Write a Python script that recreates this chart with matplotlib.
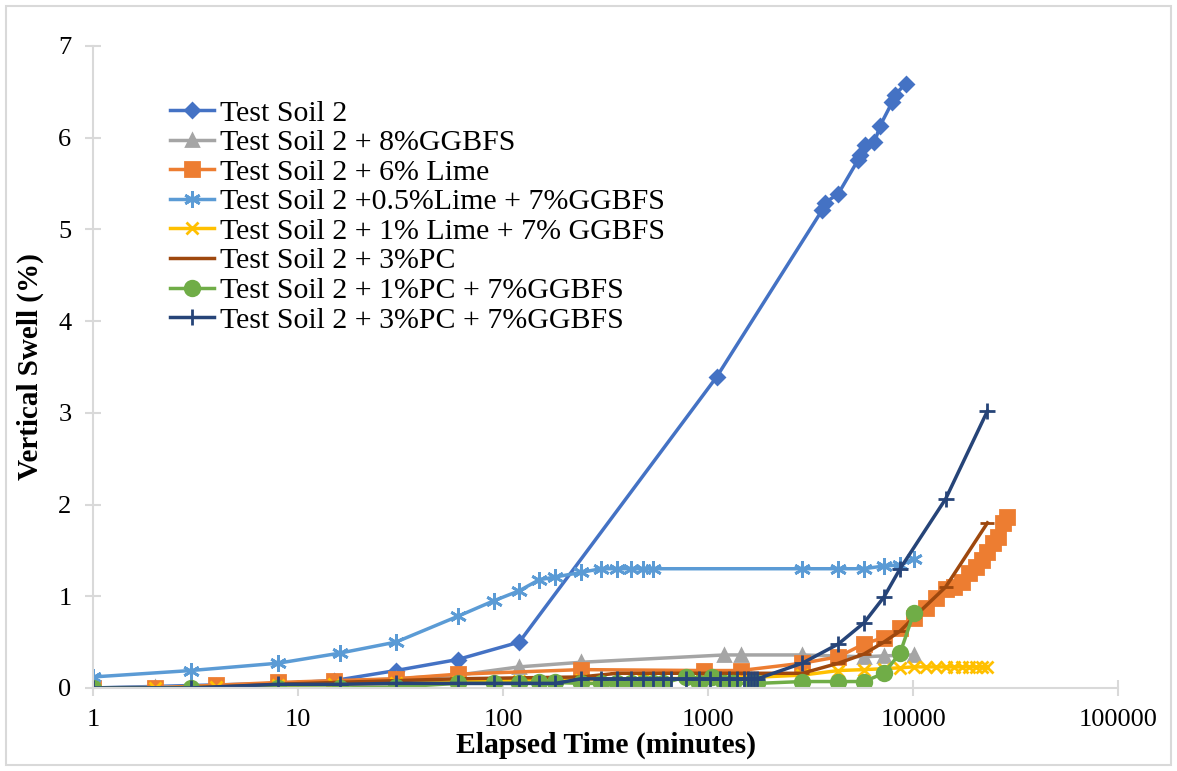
import numpy as np
import matplotlib.pyplot as plt
from matplotlib.patches import Rectangle

plt.rcParams['font.family'] = ['Liberation Serif', 'DejaVu Serif']

# elapsed time (minutes) and vertical swell (%) per mix
soil_t = [1, 8, 15, 30, 60, 120, 1100, 3600, 3720, 4320, 5400, 5520, 5820, 6480, 6900, 7920, 8160, 9240]
soil_s = [0, 0.05, 0.08, 0.19, 0.31, 0.5, 3.39, 5.21, 5.29, 5.39, 5.76, 5.81, 5.92, 5.95, 6.13, 6.39, 6.47, 6.59]

gg_t = [1, 2, 4, 8, 15, 30, 60, 120, 240, 1200, 1440, 2880, 5760, 7200, 10080]
gg_s = [0, 0.01, 0.02, 0.05, 0.07, 0.1, 0.14, 0.23, 0.28, 0.36, 0.36, 0.36, 0.34, 0.35, 0.36]

lime_t = [1, 2, 4, 8, 15, 30, 60, 240, 960, 1440, 2880, 4320, 5760, 7200, 8640, 10080,
          11520, 12960, 14400, 15840, 17280, 18720, 20160, 21600, 23040, 24480, 25920, 27360, 28800]
lime_s = [0, 0, 0.03, 0.06, 0.08, 0.1, 0.15, 0.2, 0.19, 0.19, 0.27, 0.34, 0.48, 0.55, 0.65, 0.76,
          0.87, 0.98, 1.08, 1.10, 1.16, 1.25, 1.32, 1.40, 1.48, 1.58, 1.65, 1.80, 1.86]

l05_t = [1, 3, 8, 16, 30, 60, 90, 120, 150, 180, 240, 300, 360, 420, 480, 540,
         2880, 4320, 5760, 7200, 8640, 10080]
l05_s = [0.12, 0.19, 0.27, 0.38, 0.5, 0.78, 0.95, 1.06, 1.18, 1.21, 1.26, 1.3, 1.3, 1.3, 1.3, 1.3,
         1.3, 1.3, 1.3, 1.33, 1.34, 1.41]

l1_t = [1, 2, 4, 8, 15, 30, 60, 120, 240, 480, 1440, 2880, 4320, 5760, 7200, 8640, 10080,
        11520, 12960, 14400, 15840, 17280, 18720, 20160, 21600, 23040]
l1_s = [0, 0, 0.01, 0.03, 0.04, 0.05, 0.07, 0.08, 0.09, 0.1, 0.11, 0.14, 0.19, 0.2, 0.21, 0.22, 0.23,
        0.23, 0.23, 0.23, 0.23, 0.23, 0.23, 0.23, 0.23, 0.23]

pc3_t = [1, 2, 4, 8, 15, 30, 60, 120, 240, 360, 720, 1440, 2880, 4320, 5760, 7200, 8640, 10080, 14400, 23040]
pc3_s = [0, 0, 0.01, 0.04, 0.06, 0.08, 0.1, 0.11, 0.12, 0.16, 0.16, 0.16, 0.16, 0.27, 0.37, 0.5, 0.62, 0.77, 1.1, 1.8]

pc1_t = [1, 3, 8, 16, 30, 60, 90, 120, 150, 180, 240, 300, 360, 420, 480, 540, 600, 780, 900,
         1050, 1200, 1320, 1620, 1740, 2880, 4320, 5760, 7200, 8640, 10080]
pc1_s = [0, 0, 0, 0, 0.01, 0.05, 0.05, 0.05, 0.06, 0.06, 0.05, 0.05, 0.05, 0.05, 0.05, 0.05, 0.05, 0.12, 0.05,
         0.12, 0.05, 0.05, 0.05, 0.05, 0.07, 0.07, 0.07, 0.16, 0.38, 0.82]

pc3g_t = [1, 3, 8, 16, 30, 60, 90, 120, 150, 180, 240, 300, 360, 420, 480, 540, 600, 660, 780, 900,
          1020, 1140, 1260, 1380, 1500, 1560, 1620, 1680, 1740, 2880, 4320, 5760, 7200, 8640, 14400, 23040]
pc3g_s = [0, 0, 0.04, 0.04, 0.05, 0.05, 0.05, 0.05, 0.05, 0.05, 0.1, 0.1, 0.1, 0.1, 0.1, 0.1, 0.1, 0.1, 0.1, 0.1,
          0.1, 0.1, 0.1, 0.1, 0.1, 0.1, 0.1, 0.1, 0.1, 0.27, 0.48, 0.71, 0.99, 1.3, 2.06, 3.02]

series = [
    (soil_t, soil_s, 'Test Soil 2', '#4472C4', 'D', 7),
    (gg_t, gg_s, 'Test Soil 2 + 8%GGBFS', '#A5A5A5', '^', 9),
    (lime_t, lime_s, 'Test Soil 2 + 6% Lime', '#ED7D31', 's', 10),
    (l05_t, l05_s, 'Test Soil 2 +0.5%Lime + 7%GGBFS', '#5B9BD5', (6, 2, 0), 12),
    (l1_t, l1_s, 'Test Soil 2 + 1% Lime + 7% GGBFS', '#FFC000', 'x', 9),
    (pc3_t, pc3_s, 'Test Soil 2 + 3%PC', '#9E480E', '_', 10),
    (pc1_t, pc1_s, 'Test Soil 2 + 1%PC + 7%GGBFS', '#70AD47', 'o', 10.5),
    (pc3g_t, pc3g_s, 'Test Soil 2 + 3%PC + 7%GGBFS', '#264478', '+', 11),
]

fig = plt.figure(figsize=(11.77, 7.71), dpi=100)
ax = fig.add_axes([0.079, 0.1077, 0.871, 0.8327])

for t, s, name, c, m, ms in series:
    ax.plot(t, s, color=c, lw=2.5, marker=m, ms=ms, mec=c, mfc=c, mew=2, label=name)

ax.set_xscale('log')
ax.set_xlim(1, 100000)
ax.set_ylim(0, 7)
ax.set_xticks([1, 10, 100, 1000, 10000, 100000])
ax.set_xticklabels(['1', '10', '100', '1000', '10000', '100000'])
ax.xaxis.set_minor_locator(plt.NullLocator())
ax.set_yticks(range(8))

grey = '#D9D9D9'
for side in ['top', 'right']:
    ax.spines[side].set_visible(False)
for side in ['left', 'bottom']:
    ax.spines[side].set_color(grey)
    ax.spines[side].set_linewidth(1.5)
ax.tick_params(axis='both', direction='inout', length=11, width=1.5, color=grey,
               labelsize=19, labelcolor='black')
ax.tick_params(axis='x', pad=10)
ax.tick_params(axis='y', pad=10)

ax.set_xlabel('Elapsed Time (minutes)', fontsize=21.3, fontweight='bold', labelpad=0)
ax.set_ylabel('Vertical Swell (%)', fontsize=21, fontweight='bold', labelpad=10)

ax.legend(loc='upper left', bbox_to_anchor=(0.063, 0.935), frameon=False, fontsize=21.5,
          handlelength=1.5, handletextpad=0.2, labelspacing=0.09, borderaxespad=0)

fig.patches.append(Rectangle((6 / 1177, 6 / 771), 1165 / 1177, 759 / 771, transform=fig.transFigure,
                             fill=False, edgecolor=grey, lw=1.5))

fig.savefig('out.png', dpi=100)
